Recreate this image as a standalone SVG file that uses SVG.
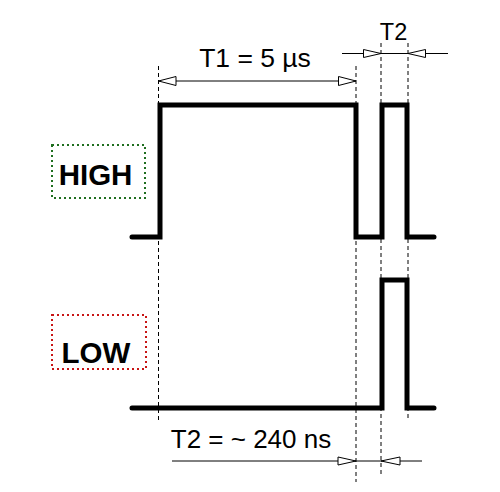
<svg xmlns="http://www.w3.org/2000/svg" width="500" height="492" viewBox="0 0 500 492">
<defs>
<style>
.wave{fill:none;stroke:#000;stroke-width:5;stroke-linejoin:miter;stroke-linecap:round}
.guide{stroke:#000;stroke-width:1;stroke-dasharray:4 3;fill:none}
.dim{stroke:#000;stroke-width:1;fill:none}
.head{fill:#fff;stroke:#000;stroke-width:1}
.lbl{font-family:"Liberation Sans",Arial,sans-serif;fill:#000}
.box{fill:none;stroke-width:2;stroke-dasharray:2 3}
</style>
</defs>
<rect width="500" height="492" fill="#fff"/>
<g id="connectors">
<line class="guide" x1="158.5" y1="66" x2="158.5" y2="420"/>
<line class="guide" x1="356" y1="66" x2="356" y2="482"/>
<line class="guide" x1="381" y1="43" x2="381" y2="476"/>
<line class="guide" x1="408" y1="43" x2="408" y2="420"/>
<line class="dim" x1="158.5" y1="81" x2="356" y2="81"/>
<polygon class="head" points="158.5,81 176,76.5 176,85.5"/>
<polygon class="head" points="356,81 338.5,76.5 338.5,85.5"/>
<line class="dim" x1="342" y1="53.5" x2="448" y2="53.5"/>
<polygon class="head" points="381,53.5 363.5,49.5 363.5,57.5"/>
<polygon class="head" points="408,53.5 425.5,49.5 425.5,57.5"/>
<line class="dim" x1="172" y1="461" x2="422" y2="461"/>
<polygon class="head" points="356,461 338,457 338,465"/>
<polygon class="head" points="381,461 400,457 400,465"/>
</g>
<g id="high-wave">
<polyline class="wave" points="132,237 160,237 160,105 356,105 356,237 382,237 382,105 407,105 407,237 434,237"/>
</g>
<g id="low-wave">
<polyline class="wave" points="132,408 382,408 382,280 407,280 407,408 434,408"/>
</g>
<g id="high">
<rect class="box" x="52" y="145" width="93" height="53" stroke="#1f6e1f"/>
<text class="lbl" x="95.5" y="184.5" font-size="29.5" font-weight="bold" text-anchor="middle">HIGH</text>
</g>
<g id="low">
<rect class="box" x="52" y="315" width="94" height="54" stroke="#c81414"/>
<text class="lbl" x="96" y="363" font-size="29.5" font-weight="bold" text-anchor="middle">LOW</text>
</g>
<g id="t1-label">
<text class="lbl" x="255" y="67" font-size="26.5" text-anchor="middle">T1 = 5 µs</text>
</g>
<g id="t2-label">
<text class="lbl" x="393.5" y="39.5" font-size="23.5" text-anchor="middle">T2</text>
</g>
<g id="t2-value">
<text class="lbl" x="251" y="448" font-size="26" text-anchor="middle">T2 = ~ 240 ns</text>
</g>
</svg>
